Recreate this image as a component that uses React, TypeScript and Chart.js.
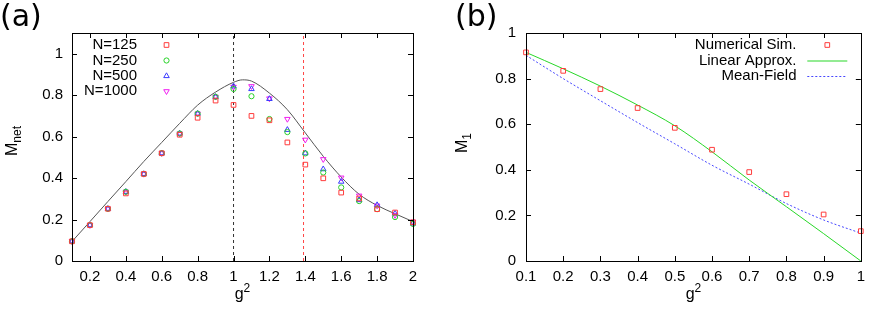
import { useEffect, useRef } from "react";
import { Chart, registerables } from "chart.js";
import { drawPoint } from "chart.js/helpers";

Chart.register(...registerables);

const FONT = "'Liberation Sans', Arial, Helvetica, sans-serif";
const LABEL_FONT = "'DejaVu Sans', Verdana, sans-serif";

// ---------- Panel (a) data ----------
const gA = [0.1, 0.2, 0.3, 0.4, 0.5, 0.6, 0.7, 0.8, 0.9, 1.0, 1.1, 1.2, 1.3, 1.4, 1.5, 1.6, 1.7, 1.8, 1.9, 2.0];
const mN125 = [0.095, 0.173, 0.252, 0.326, 0.42, 0.52, 0.609, 0.691, 0.774, 0.753, 0.7, 0.679, 0.572, 0.465, 0.399, 0.33, 0.302, 0.25, 0.234, 0.187];
const mN250 = [0.095, 0.173, 0.252, 0.334, 0.42, 0.52, 0.615, 0.711, 0.792, 0.83, 0.795, 0.685, 0.622, 0.519, 0.427, 0.355, 0.289, 0.25, 0.212, 0.179];
const mN500 = [0.095, 0.173, 0.252, 0.334, 0.42, 0.52, 0.615, 0.711, 0.792, 0.843, 0.83, 0.782, 0.633, 0.52, 0.443, 0.383, 0.294, 0.27, 0.229, 0.181];
const mN1000 = [0.095, 0.173, 0.252, 0.334, 0.42, 0.52, 0.615, 0.711, 0.792, 0.84, 0.843, 0.784, 0.685, 0.585, 0.491, 0.402, 0.315, 0.267, 0.221, 0.189];
const curveGA = [0.1, 0.2, 0.3, 0.4, 0.5, 0.6, 0.7, 0.8, 0.9, 1.0, 1.05, 1.1, 1.2, 1.3, 1.4, 1.5, 1.6, 1.7, 1.8, 1.9, 2.0];
const curveMA = [0.094, 0.19, 0.287, 0.383, 0.48, 0.572, 0.664, 0.752, 0.815, 0.862, 0.874, 0.868, 0.81, 0.73, 0.618, 0.505, 0.405, 0.322, 0.268, 0.228, 0.19];
const vlineBlackG = 1.0;
const vlineRedG = 1.39;
const xTicksA = [0.2, 0.4, 0.6, 0.8, 1, 1.2, 1.4, 1.6, 1.8, 2];
const yTicksA = [0, 0.2, 0.4, 0.6, 0.8, 1];
const namesA = ["N=125", "N=250", "N=500", "N=1000"];

// ---------- Panel (b) data ----------
const gB = [0.1, 0.2, 0.3, 0.4, 0.5, 0.6, 0.7, 0.8, 0.9, 1.0];
const simB = [0.915, 0.834, 0.754, 0.671, 0.584, 0.488, 0.39, 0.293, 0.204, 0.131];
const linearB = [0.915, 0.843, 0.767, 0.684, 0.593, 0.479, 0.355, 0.238, 0.12, 0.0];
const meanFieldB = [0.902, 0.8, 0.703, 0.607, 0.514, 0.42, 0.337, 0.252, 0.18, 0.122];
const xTicksB = [0.1, 0.2, 0.3, 0.4, 0.5, 0.6, 0.7, 0.8, 0.9, 1];
const yTicksB = [0, 0.2, 0.4, 0.6, 0.8, 1];
const namesB = ["Numerical Sim.", "Linear Approx.", "Mean-Field"];

// ---------- styles ----------
const SER_A = [
  { style: "rect", rot: 0, r: 3.3, color: "rgb(255,60,60)" },
  { style: "circle", rot: 0, r: 2.6, color: "rgb(40,210,40)" },
  { style: "triangle", rot: 0, r: 3.2, color: "rgb(60,60,255)" },
  { style: "triangle", rot: 180, r: 3.2, color: "rgb(240,30,240)" },
];
const RED_B = "rgb(255,60,60)";
const GREEN_B = "rgb(40,215,40)";
const BLUE_B = "rgb(70,70,255)";
const TICK = 5;

const pts = (xs: number[], ys: number[]) => xs.map((x, i) => ({ x, y: ys[i] }));

function drawText(ctx: CanvasRenderingContext2D, t: string, x: number, y: number, size: number, align: CanvasTextAlign, family = FONT) {
  ctx.font = `${size}px ${family}`;
  ctx.textAlign = align;
  ctx.textBaseline = "middle";
  ctx.fillStyle = "#000";
  ctx.fillText(t, x, y);
}

type Spec = {
  label: string;
  labelX: number;
  xTicks: number[];
  yTicks: number[];
  yMain: string;
  ySub: string;
  yTitleX: number;
  yTitleY: number;
  xMain: string;
  xSup: string;
  xTitleY: number;
  legend: (ctx: CanvasRenderingContext2D) => void;
};

function decor(spec: Spec) {
  return {
    id: "decor",
    afterDatasetsDraw(chart: any) {
      const ctx: CanvasRenderingContext2D = chart.ctx;
      const a = chart.chartArea;
      const xs = chart.scales.x;
      const ys = chart.scales.y;
      ctx.save();
      ctx.strokeStyle = "#000";
      ctx.lineWidth = 1;
      ctx.setLineDash([]);
      ctx.beginPath();
      for (const v of spec.xTicks) {
        const px = Math.round(xs.getPixelForValue(v)) + 0.5;
        ctx.moveTo(px, a.bottom);
        ctx.lineTo(px, a.bottom - TICK);
        ctx.moveTo(px, a.top);
        ctx.lineTo(px, a.top + TICK);
      }
      for (const v of spec.yTicks) {
        const py = Math.round(ys.getPixelForValue(v)) + 0.5;
        ctx.moveTo(a.left, py);
        ctx.lineTo(a.left + TICK, py);
        ctx.moveTo(a.right, py);
        ctx.lineTo(a.right - TICK, py);
      }
      ctx.stroke();
      ctx.strokeRect(Math.round(a.left) + 0.5, Math.round(a.top) + 0.5, Math.round(a.right - a.left), Math.round(a.bottom - a.top));

      // panel label
      ctx.font = `30px ${LABEL_FONT}`;
      ctx.textAlign = "left";
      ctx.textBaseline = "alphabetic";
      ctx.fillStyle = "#000";
      ctx.fillText(spec.label, spec.labelX, 26);

      // y title (rotated, with subscript)
      ctx.save();
      ctx.translate(spec.yTitleX, spec.yTitleY);
      ctx.rotate(-Math.PI / 2);
      ctx.font = `16px ${FONT}`;
      const wm = ctx.measureText(spec.yMain).width;
      ctx.font = `12px ${FONT}`;
      const ws = ctx.measureText(spec.ySub).width;
      const start = -(wm + ws) / 2;
      ctx.textAlign = "left";
      ctx.textBaseline = "alphabetic";
      ctx.font = `16px ${FONT}`;
      ctx.fillText(spec.yMain, start, 0);
      ctx.font = `12px ${FONT}`;
      ctx.fillText(spec.ySub, start + wm, 4);
      ctx.restore();

      // x title (with superscript)
      const cx = (a.left + a.right) / 2;
      ctx.font = `16px ${FONT}`;
      const gw = ctx.measureText(spec.xMain).width;
      ctx.font = `12px ${FONT}`;
      const sw = ctx.measureText(spec.xSup).width;
      const sx = cx - (gw + sw) / 2;
      ctx.textAlign = "left";
      ctx.textBaseline = "alphabetic";
      ctx.font = `16px ${FONT}`;
      ctx.fillText(spec.xMain, sx, spec.xTitleY);
      ctx.font = `12px ${FONT}`;
      ctx.fillText(spec.xSup, sx + gw, spec.xTitleY - 7);

      spec.legend(ctx);
      ctx.restore();
    },
  };
}

function axisCfg(min: number, max: number, ticks: number[], pad: number, fit: (s: any) => void) {
  return {
    type: "linear",
    min,
    max,
    afterBuildTicks: (s: any) => {
      s.ticks = ticks.map((v) => ({ value: v }));
    },
    afterFit: fit,
    grid: { display: false, drawTicks: false },
    border: { display: false },
    ticks: {
      autoSkip: false,
      maxRotation: 0,
      padding: pad,
      color: "#000",
      font: { family: FONT, size: 15 },
      callback: (v: any) => String(v),
    },
  };
}

function legendMarker(ctx: CanvasRenderingContext2D, s: { style: string; rot: number; r: number; color: string }, x: number, y: number) {
  ctx.save();
  ctx.strokeStyle = s.color;
  ctx.fillStyle = "rgba(0,0,0,0)";
  ctx.lineWidth = 1;
  ctx.setLineDash([]);
  drawPoint(ctx, { pointStyle: s.style as any, rotation: s.rot, radius: s.r, borderWidth: 1 } as any, x, y);
  ctx.restore();
}

export default function App() {
  const refA = useRef<HTMLCanvasElement | null>(null);
  const refB = useRef<HTMLCanvasElement | null>(null);

  useEffect(() => {
    document.body.style.margin = "0";
    const seriesA = [mN125, mN250, mN500, mN1000];

    const chartA = new Chart(refA.current as HTMLCanvasElement, {
      type: "scatter",
      data: {
        datasets: [
          ...seriesA.map((ys, i) => ({
            label: namesA[i],
            data: pts(gA, ys),
            showLine: false,
            pointStyle: SER_A[i].style as any,
            rotation: SER_A[i].rot,
            pointRadius: SER_A[i].r,
            borderColor: SER_A[i].color,
            backgroundColor: "rgba(0,0,0,0)",
            pointBorderWidth: 1,
            clip: false as any,
          })),
          {
            label: "theory",
            data: pts(curveGA, curveMA),
            showLine: true,
            borderColor: "#555",
            borderWidth: 1,
            pointRadius: 0,
            cubicInterpolationMode: "monotone",
          },
          {
            label: "v1",
            data: [{ x: vlineBlackG, y: 0 }, { x: vlineBlackG, y: 1.1 }],
            showLine: true,
            borderColor: "#333",
            borderWidth: 1,
            borderDash: [3, 3],
            pointRadius: 0,
          },
          {
            label: "v2",
            data: [{ x: vlineRedG, y: 0 }, { x: vlineRedG, y: 1.1 }],
            showLine: true,
            borderColor: "rgb(255,70,70)",
            borderWidth: 1,
            borderDash: [3, 3],
            pointRadius: 0,
          },
        ] as any,
      },
      options: {
        responsive: false,
        animation: false,
        events: [],
        layout: { padding: { left: 0, top: 33, right: 23, bottom: 0 } },
        plugins: { legend: { display: false }, tooltip: { enabled: false } },
        scales: {
          x: axisCfg(0.1, 2, xTicksA, 7, (s: any) => { s.height = 49; }),
          y: axisCfg(0, 1.1, yTicksA, 9, (s: any) => { s.width = 72; }),
        } as any,
      },
      plugins: [
        decor({
          label: "(a)",
          labelX: 0,
          xTicks: xTicksA,
          yTicks: yTicksA,
          yMain: "M",
          ySub: "net",
          yTitleX: 17,
          yTitleY: 141,
          xMain: "g",
          xSup: "2",
          xTitleY: 299,
          legend: (ctx) => {
            const rows = [45, 60.5, 76, 91.3];
            namesA.forEach((n, i) => {
              drawText(ctx, n, 137, rows[i], 15, "right");
              legendMarker(ctx, SER_A[i], 166.5, rows[i]);
            });
          },
        }),
      ],
    } as any);

    const chartB = new Chart(refB.current as HTMLCanvasElement, {
      type: "scatter",
      data: {
        datasets: [
          {
            label: namesB[0],
            data: pts(gB, simB),
            showLine: false,
            pointStyle: "rect",
            pointRadius: 3.3,
            borderColor: RED_B,
            backgroundColor: "rgba(0,0,0,0)",
            pointBorderWidth: 1,
            clip: false as any,
          },
          {
            label: namesB[1],
            data: pts(gB, linearB),
            showLine: true,
            borderColor: GREEN_B,
            borderWidth: 1,
            pointRadius: 0,
            cubicInterpolationMode: "monotone",
          },
          {
            label: namesB[2],
            data: pts(gB, meanFieldB),
            showLine: true,
            borderColor: BLUE_B,
            borderWidth: 1,
            borderDash: [2, 2],
            pointRadius: 0,
            cubicInterpolationMode: "monotone",
          },
        ] as any,
      },
      options: {
        responsive: false,
        animation: false,
        events: [],
        layout: { padding: { left: 0, top: 33, right: 5, bottom: 0 } },
        plugins: { legend: { display: false }, tooltip: { enabled: false } },
        scales: {
          x: axisCfg(0.1, 1, xTicksB, 7, (s: any) => { s.height = 49; }),
          y: axisCfg(0, 1, yTicksB, 10, (s: any) => { s.width = 90; }),
        } as any,
      },
      plugins: [
        decor({
          label: "(b)",
          labelX: 19,
          xTicks: xTicksB,
          yTicks: yTicksB,
          yMain: "M",
          ySub: "1",
          yTitleX: 31,
          yTitleY: 143,
          xMain: "g",
          xSup: "2",
          xTitleY: 299,
          legend: (ctx) => {
            const rows = [45, 61, 76];
            namesB.forEach((n, i) => drawText(ctx, n, 360.5, rows[i], 15, "right"));
            legendMarker(ctx, { style: "rect", rot: 0, r: 3.3, color: RED_B }, 391.3, rows[0]);
            ctx.save();
            ctx.lineWidth = 1.2;
            ctx.strokeStyle = GREEN_B;
            ctx.setLineDash([]);
            ctx.beginPath();
            ctx.moveTo(371.3, rows[1]);
            ctx.lineTo(411.3, rows[1]);
            ctx.stroke();
            ctx.lineWidth = 1;
            ctx.strokeStyle = BLUE_B;
            ctx.setLineDash([2, 2]);
            ctx.beginPath();
            ctx.moveTo(371.3, rows[2] + 0.5);
            ctx.lineTo(411.3, rows[2] + 0.5);
            ctx.stroke();
            ctx.restore();
          },
        }),
      ],
    } as any);

    return () => {
      chartA.destroy();
      chartB.destroy();
    };
  }, []);

  return (
    <div style={{ position: "relative", width: 872, height: 310, background: "#fff" }}>
      <canvas ref={refA} width={436} height={310} style={{ position: "absolute", left: 0, top: 0, width: 436, height: 310 }} />
      <canvas ref={refB} width={436} height={310} style={{ position: "absolute", left: 436, top: 0, width: 436, height: 310 }} />
    </div>
  );
}
